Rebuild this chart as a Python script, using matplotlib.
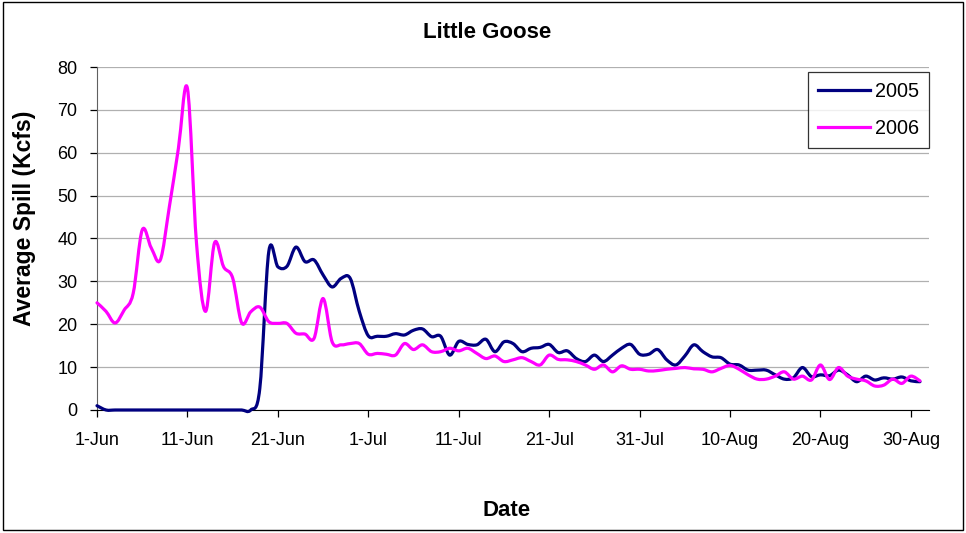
import matplotlib
matplotlib.use('Agg')
import matplotlib.pyplot as plt
from matplotlib.path import Path
from matplotlib.patches import PathPatch, Rectangle
from matplotlib.lines import Line2D

# day index 0 = 1-Jun ... 91 = 31-Aug
days = list(range(92))

spill_2005 = [1.0] + [0.0] * 17 + [
    5.0, 37.0, 33.4, 33.5, 38.0, 34.6, 35.0, 31.5, 28.7, 30.7,
    30.7, 23.0, 17.3, 17.2, 17.2, 17.8, 17.5, 18.6, 18.9, 17.1,
    17.2, 12.8, 16.0, 15.3, 15.2, 16.5, 13.6, 15.9, 15.5, 13.6,
    14.4, 14.6, 15.3, 13.4, 13.8, 12.0, 11.3, 12.8, 11.3, 12.8,
    14.4, 15.3, 13.0, 13.0, 14.1, 11.7, 10.5, 12.6, 15.2, 13.6,
    12.4, 12.2, 10.7, 10.5, 9.3, 9.3, 9.3, 8.2, 7.2, 7.5,
    9.9, 7.8, 8.2, 8.0, 9.3, 8.2, 6.6, 7.9, 7.0, 7.5,
    7.2, 7.7, 6.8, 6.6]

spill_2006 = [
    25.0, 23.0, 20.3, 23.3, 27.2, 42.0, 37.8, 35.0, 47.4, 61.0,
    75.0, 39.0, 23.0, 39.0, 33.4, 30.8, 20.3, 22.9, 24.0, 20.6,
    20.2, 20.2, 17.9, 17.7, 16.7, 26.0, 15.9, 15.2, 15.5, 15.5,
    13.0, 13.2, 13.0, 12.8, 15.5, 14.1, 15.2, 13.6, 13.6, 14.4,
    13.8, 14.4, 13.2, 12.0, 12.6, 11.3, 11.7, 12.2, 11.3, 10.5,
    12.8, 11.8, 11.7, 11.3, 10.5, 9.5, 10.5, 8.9, 10.3, 9.5,
    9.5, 9.1, 9.2, 9.5, 9.7, 9.9, 9.6, 9.5, 8.9, 9.7,
    10.4, 9.5, 8.2, 7.2, 7.2, 7.9, 8.9, 7.2, 7.9, 7.0,
    10.5, 7.1, 9.9, 7.9, 7.2, 6.8, 5.6, 5.8, 7.2, 6.2,
    7.9, 6.8]

tick_days = [0, 10, 20, 30, 40, 50, 60, 70, 80, 90]
tick_labels = ["1-Jun", "11-Jun", "21-Jun", "1-Jul", "11-Jul", "21-Jul",
               "31-Jul", "10-Aug", "20-Aug", "30-Aug"]

navy = "#000080"
magenta = "#FF00FF"
font = "Liberation Sans"


def smooth_path(x, y):
    # Excel-style smoothed line: cubic bezier through every point
    verts = [(x[0], y[0])]
    codes = [Path.MOVETO]
    n = len(x)
    for i in range(n - 1):
        i0 = max(i - 1, 0)
        i3 = min(i + 2, n - 1)
        c1 = (x[i] + (x[i + 1] - x[i0]) / 6.0, y[i] + (y[i + 1] - y[i0]) / 6.0)
        c2 = (x[i + 1] - (x[i3] - x[i]) / 6.0, y[i + 1] - (y[i3] - y[i]) / 6.0)
        verts += [c1, c2, (x[i + 1], y[i + 1])]
        codes += [Path.CURVE4] * 3
    return Path(verts, codes)


fig = plt.figure(figsize=(9.66, 5.33), dpi=100)
fig.patches.append(Rectangle((0.003, 0.006), 0.994, 0.99, transform=fig.transFigure,
                             fill=False, edgecolor="black", linewidth=1))
ax = fig.add_axes([97 / 966, 1 - 410 / 533, (929 - 97) / 966, (410 - 67) / 533])

for vals, col in [(spill_2005, navy), (spill_2006, magenta)]:
    ax.add_patch(PathPatch(smooth_path(days, vals), fill=False, edgecolor=col,
                           linewidth=2.3, capstyle="round", joinstyle="round",
                           zorder=3, clip_on=False))

ax.set_xlim(0, 92)
ax.set_ylim(0, 80)
ax.set_yticks(range(0, 81, 10))
ax.set_xticks(tick_days)
ax.set_xticklabels(tick_labels)
ax.grid(True, axis="y", color="#b0b0b0", linewidth=0.9)
ax.set_axisbelow(True)
for s in ["top", "right"]:
    ax.spines[s].set_visible(False)
ax.spines["left"].set_color("#606060")
ax.spines["bottom"].set_color("black")
ax.tick_params(direction="out", length=5, width=0.9, labelsize=13)
ax.tick_params(axis="x", pad=11)
ax.tick_params(axis="y", pad=9)
for lab in ax.get_xticklabels() + ax.get_yticklabels():
    lab.set_fontfamily(font)

fig.text(487 / 966, 1 - 32 / 533, "Little Goose", fontsize=16, fontweight="bold",
         family=font, ha="center", va="center")
fig.text(25 / 966, 1 - 218 / 533, "Average Spill (Kcfs)", fontsize=16.5, fontweight="bold",
         family=font, ha="center", va="center", rotation=90)
fig.text(507 / 966, 1 - 510 / 533, "Date", fontsize=16, fontweight="bold",
         family=font, ha="center", va="center")

handles = [Line2D([], [], color=navy, linewidth=2.3), Line2D([], [], color=magenta, linewidth=2.3)]
leg = fig.legend(handles, ["2005", "2006"], loc="upper right",
                 bbox_to_anchor=(929 / 966, 1 - 72 / 533),
                 prop={"family": font, "size": 14.3}, frameon=True, fancybox=False,
                 edgecolor="black", handlelength=2.6, handletextpad=0.25,
                 labelspacing=0.9, borderpad=0.5, borderaxespad=0)
leg.get_frame().set_linewidth(0.9)

fig.savefig("out.png", dpi=100)
